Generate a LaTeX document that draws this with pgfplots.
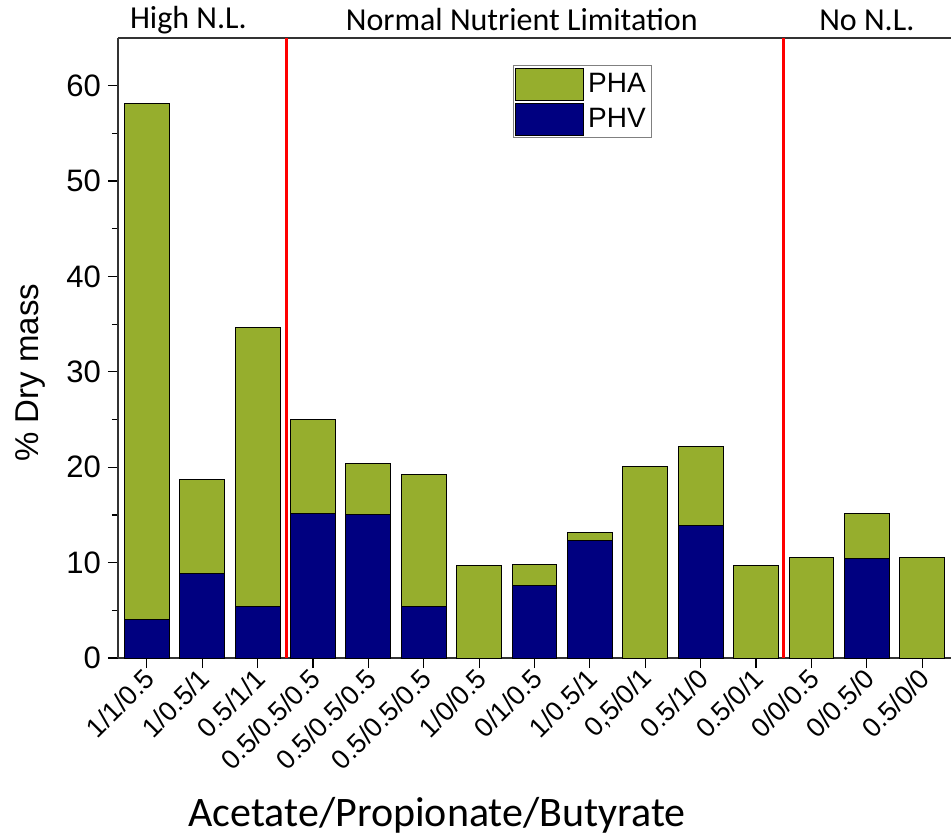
\documentclass[border=0pt]{standalone}
\usepackage{pgfplots}
\pgfplotsset{compat=1.18}
\usepackage{fontspec}
\setmainfont{Liberation Sans}
\newfontfamily\calibri{Carlito}
\definecolor{phagreen}{RGB}{150,174,45}
\definecolor{phvblue}{RGB}{0,0,128}
\pgfplotsset{legend image code/.code={\draw[#1, draw=black, line width=0.5pt] (0pt,-8pt) rectangle (34pt,8pt);}}
\begin{document}
\begin{tikzpicture}
\useasboundingbox (-59pt,-89pt) rectangle (416.5pt,329pt);
\begin{axis}[
  at={(0pt,0pt)}, anchor=south west,
  scale only axis, width=416.5pt, height=310pt,
  xmin=-0.52, xmax=14.52, ymin=0, ymax=65,
  axis x line=box, axis y line=left,
  axis line style={-, line width=1pt, black!80},
  xtick={0,...,14},
  xticklabels={1/1/0.5,1/0.5/1,0.5/1/1,0.5/0.5/0.5,0.5/0.5/0.5,0.5/0.5/0.5,1/0/0.5,0/1/0.5,1/0.5/1,{0,5/0/1},0.5/1/0,0.5/0/1,0/0/0.5,0/0.5/0,0.5/0/0},
  xticklabel style={rotate=45, anchor=east, font=\fontsize{13.5}{15}\selectfont, inner sep=1pt, yshift=-3pt},
  ytick={0,10,...,60}, minor ytick={5,15,...,55},
  yticklabel style={font=\fontsize{15.5}{18}\selectfont},
  tick align=outside, xtick pos=bottom, ytick pos=left,
  major tick length=5pt, minor tick length=3pt,
  tick style={line width=0.6pt, black},
  /pgf/number format/assume math mode=true,
  ylabel={\% Dry mass},
  ylabel style={font=\fontsize{16.5}{19}\selectfont, at={(axis description cs:-0.105,0.46)}, anchor=center},
  xlabel={\calibri Acetate/Propionate/Butyrate},
  xlabel style={font=\fontsize{21}{24}\selectfont, at={(axis description cs:0.383,-0.254)}, anchor=center},
  clip=false,
  legend style={at={(axis description cs:0.474,0.956)}, anchor=north west, draw=black!50, font=\fontsize{14}{16}\selectfont, inner sep=1pt, row sep=1pt, /tikz/every even column/.append style={column sep=1pt}},
  legend cell align=left,
]
\addplot[ybar, bar width=0.81, bar shift=0, fill=phagreen, draw=black, line width=0.5pt]
  coordinates {(0,58.1) (1,18.7) (2,34.6) (3,25.0) (4,20.4) (5,19.2) (6,9.7) (7,9.8) (8,13.2) (9,20.1) (10,22.2) (11,9.7) (12,10.5) (13,15.2) (14,10.5)};
\addlegendentry{PHA}
\addplot[ybar, bar width=0.81, bar shift=0, fill=phvblue, draw=black, line width=0.5pt]
  coordinates {(0,4.0) (1,8.9) (2,5.4) (3,15.2) (4,15.0) (5,5.4) (6,0) (7,7.6) (8,12.3) (9,0) (10,13.9) (11,0) (12,0) (13,10.4) (14,0)};
\addlegendentry{PHV}
\addplot[red, line width=1.5pt, sharp plot, forget plot] coordinates {(2.52,0) (2.52,65)};
\addplot[red, line width=1.5pt, sharp plot, forget plot] coordinates {(11.49,0) (11.49,65)};
\node[font=\calibri\fontsize{16}{18}\selectfont] at (axis cs:0.75,66.9) {High N.L.};
\node[font=\calibri\fontsize{16}{18}\selectfont] at (axis cs:6.77,66.9) {Normal Nutrient Limitation};
\node[font=\calibri\fontsize{16}{18}\selectfont] at (axis cs:13.0,66.9) {No N.L.};
\end{axis}
\end{tikzpicture}
\end{document}
